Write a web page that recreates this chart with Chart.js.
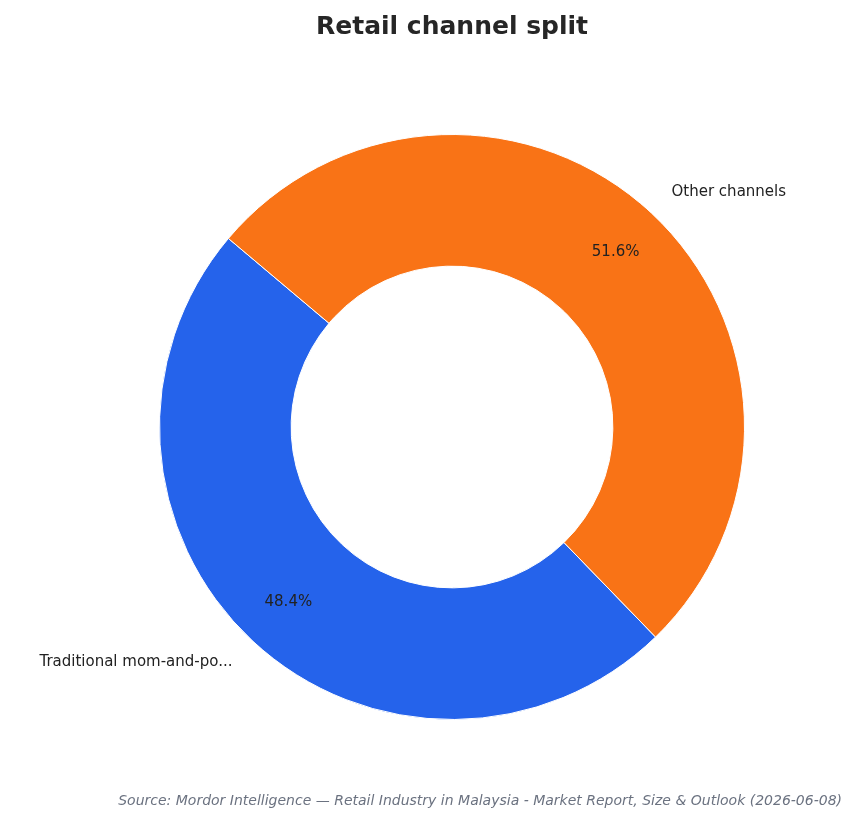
<!DOCTYPE html>
<html>
<head>
<meta charset="utf-8">
<script src="https://cdn.jsdelivr.net/npm/chart.js@4"></script>
<style>
  html, body { margin: 0; padding: 0; background: #fff; }
  #wrap { width: 858px; height: 824px; position: relative; }
</style>
</head>
<body>
<div id="wrap"><canvas id="myChart" width="858" height="824"></canvas></div>
<script>
const labels = ["Traditional mom-and-po...", "Other channels"];
const shares = [48.4, 51.6];
const colors = ["#2563eb", "#f97316"];

const FONT = "'DejaVu Sans', sans-serif";

// labels outside and percentages inside the ring
const sliceText = {
  id: "sliceText",
  afterDatasetsDraw(chart) {
    const ctx = chart.ctx;
    const meta = chart.getDatasetMeta(0);
    ctx.save();
    meta.data.forEach((arc, i) => {
      const mid = (arc.startAngle + arc.endAngle) / 2;
      const r = arc.outerRadius;
      const cos = Math.cos(mid), sin = Math.sin(mid);
      ctx.fillStyle = "#222";
      ctx.font = "15px " + FONT;
      ctx.textBaseline = "middle";
      ctx.textAlign = "center";
      ctx.fillText(shares[i].toFixed(1) + "%", arc.x + cos * r * 0.82, arc.y + sin * r * 0.82);
      ctx.textAlign = cos >= 0 ? "left" : "right";
      ctx.fillText(labels[i], arc.x + cos * r * 1.1, arc.y + sin * r * 1.1);
    });
    ctx.restore();
  },
  afterDraw(chart) {
    const ctx = chart.ctx;
    ctx.save();
    ctx.fillStyle = "#262626";
    ctx.font = "bold 25px " + FONT;
    ctx.textAlign = "center";
    ctx.textBaseline = "middle";
    ctx.fillText("Retail channel split", 452, 27);
    ctx.fillStyle = "#6b7280";
    ctx.font = "italic 14px " + FONT;
    ctx.textAlign = "right";
    ctx.fillText("Source: Mordor Intelligence \u2014 Retail Industry in Malaysia - Market Report, Size & Outlook (2026-06-08)", 842, 801);
    ctx.restore();
  }
};

new Chart(document.getElementById("myChart").getContext("2d"), {
  type: "doughnut",
  data: {
    labels: labels,
    datasets: [{
      data: shares,
      backgroundColor: colors,
      borderColor: "#ffffff",
      borderWidth: 1
    }]
  },
  options: {
    responsive: false,
    animation: false,
    cutout: "55%",
    rotation: 135.9,
    layout: { padding: { left: 159, right: 113, top: 134, bottom: 104 } },
    plugins: {
      legend: { display: false },
      tooltip: { enabled: false },
      title: { display: false }
    }
  },
  plugins: [sliceText]
});
</script>
</body>
</html>
